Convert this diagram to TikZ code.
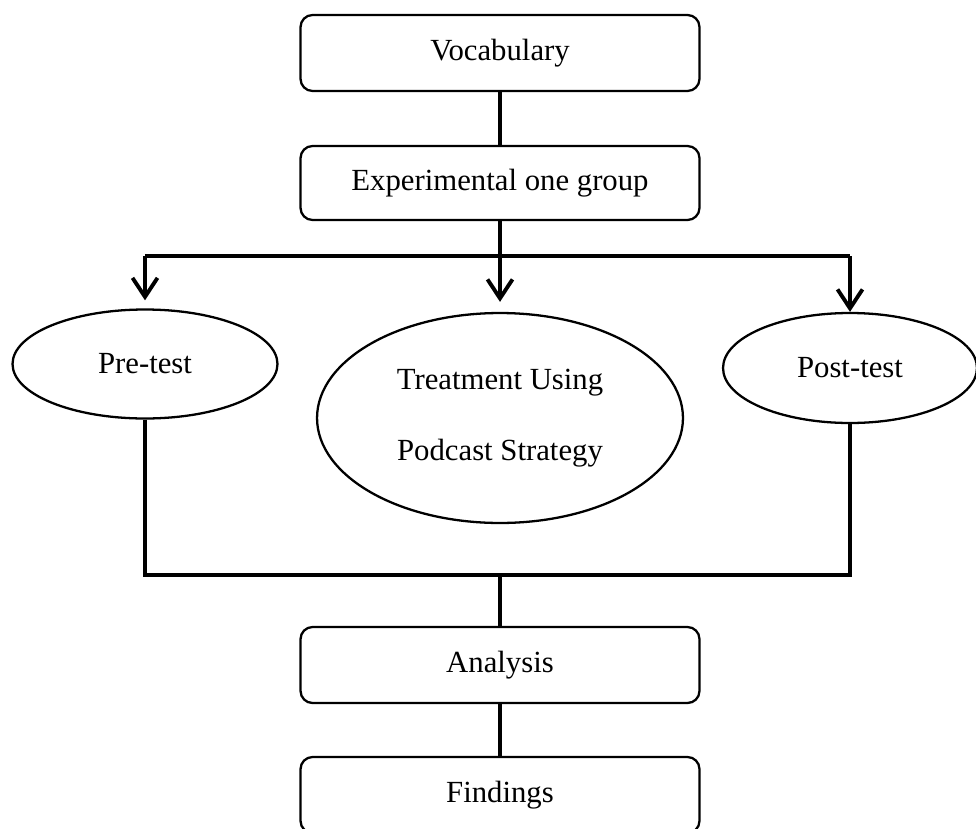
\documentclass[tikz,border=0pt]{standalone}
\usepackage{fontspec}
\setmainfont{Liberation Serif}
\usetikzlibrary{shapes.geometric,arrows.meta}

\tikzset{
  box/.style={draw, rounded corners=0.24cm, line width=1.3pt, minimum width=7.98cm, minimum height=1.52cm},
  oval/.style={draw, ellipse, line width=1.3pt, inner sep=0pt},
  link/.style={line width=2.2pt},
  flow/.style={link, -{Straight Barb[length=3.8mm, width=5mm, line width=2.2pt]}}
}

\begin{document}
\begin{tikzpicture}[x=0.02cm, y=-0.02cm, font=\fontsize{17.5pt}{40pt}\selectfont]
    \useasboundingbox (0,0) rectangle (976,828);
    \node[box] (vocab) at (500,53) {Vocabulary};
    \node[box, minimum height=1.48cm] (exp) at (500,183) {Experimental one group};
    \node[oval, minimum width=5.3cm, minimum height=2.18cm] (pre) at (145,364) {Pre-test};
    \node[oval, minimum width=7.32cm, minimum height=4.2cm, align=center] (treat) at (500,418) {Treatment Using\\Podcast Strategy};
    \node[oval, minimum width=5.08cm, minimum height=2.2cm] (post) at (850,368) {Post-test};
    \node[box] (ana) at (500,665) {Analysis};
    \node[box] (find) at (500,795) {Findings};
    \coordinate (split) at (500,256);
    \coordinate (join) at (500,575);
    \draw[link] (vocab) -- (exp);
    \draw[flow, shorten >=0.2cm] (exp) -- (treat);
    \draw[link] (split -| pre) -- (split -| post);
    \draw[flow, shorten >=0.16cm] (split -| pre) -- (pre);
    \draw[flow] (split -| post) -- (post);
    \draw[link] (pre) -- (pre |- join) -- (post |- join) -- (post);
    \draw[link] (join) -- (ana);
    \draw[link] (ana) -- (find);
\end{tikzpicture}
\end{document}
